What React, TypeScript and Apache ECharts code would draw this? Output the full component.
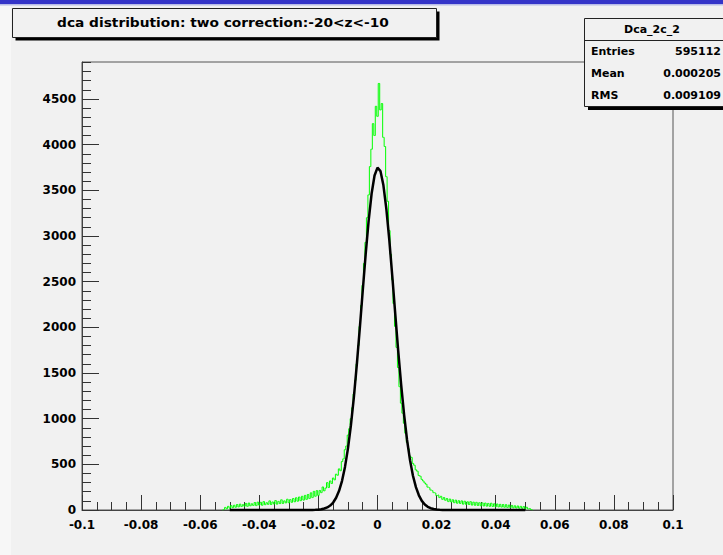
import React, { useEffect, useRef } from "react";
import * as echarts from "echarts";

const TITLE = "dca distribution: two correction:-20<z<-10";
const STATS_NAME = "Dca_2c_2";
const STATS_LABELS = ["Entries", "Mean", "RMS"];
const STATS_VALUES = ["595112", "0.000205", "0.009109"];

const X_MIN = -0.1;
const X_MAX = 0.1;
const X_INTERVAL = 0.02;
const Y_MIN = 0;
const Y_MAX = 4905;
const Y_MAJOR_TICKS = [0, 500, 1000, 1500, 2000, 2500, 3000, 3500, 4000, 4500];
const Y_MINOR_TICKS = [
  100, 200, 300, 400, 600, 700, 800, 900, 1100, 1200, 1300, 1400, 1600, 1700, 1800, 1900,
  2100, 2200, 2300, 2400, 2600, 2700, 2800, 2900, 3100, 3200, 3300, 3400, 3600, 3700, 3800, 3900,
  4100, 4200, 4300, 4400, 4600, 4700, 4800, 4900,
];

// histogram: bin centres start at -0.052, bin width 0.0005
const HIST_FIRST_CENTER = -0.052;
const HIST_BIN_WIDTH = 0.0005;
const HIST_COUNTS = [
  // -0.052 .. -0.040
  6, 28, 14, 40, 20, 48, 26, 52, 30, 60, 34, 64, 38, 58, 42, 72, 40, 76, 46, 68, 50, 82, 48, 86, 54,
  // -0.0395 .. -0.030
  84, 52, 92, 58, 80, 62, 100, 60, 88, 66, 104, 64, 94, 70, 112, 72, 100, 78, 118, 80,
  // -0.0295 .. -0.020
  114, 84, 126, 90, 134, 96, 142, 102, 150, 108, 160, 116, 170, 126, 188, 136, 204, 150, 212, 160,
  // -0.0195 .. -0.010
  214, 190, 252, 210, 240, 300, 246, 318, 290, 350, 330, 392, 380, 450, 430, 530, 560, 660, 700, 820,
  // -0.0095 .. -0.0035
  890, 1000, 1120, 1270, 1420, 1600, 1800, 2010, 2240, 2460, 2700, 2930, 3200,
  // -0.003 .. 0.003
  3450, 3760, 3950, 4230, 4100, 4420, 4310, 4670, 4380, 4450, 4080, 3980, 3650,
  // 0.0035 .. 0.010
  3380, 3060, 2800, 2520, 2260, 2010, 1780, 1560, 1350, 1170, 1060, 950, 840, 740,
  // 0.0105 .. 0.052
  670, 590, 575, 510, 490, 440, 425, 378, 370, 335,
  318, 296, 282, 250, 244, 218, 212, 190, 186, 158,
  164, 136, 150, 116, 136, 106, 126, 92, 120, 88,
  112, 80, 108, 74, 102, 72, 100, 64, 96, 62,
  90, 60, 92, 54, 86, 52, 84, 50, 80, 46,
  78, 44, 76, 42, 72, 40, 74, 38, 68, 36,
  66, 34, 62, 32, 60, 30, 58, 28, 54, 26,
  50, 24, 46, 22, 44, 20, 40, 18, 38, 14,
  30, 12, 16, 4,
];

// Gaussian fit curve as drawn (polyline, 0.001 steps)
const FIT_X = [
  -0.05, -0.023, -0.022, -0.021, -0.02, -0.019, -0.018, -0.017, -0.016, -0.015, -0.014, -0.013,
  -0.012, -0.011, -0.01, -0.009, -0.008, -0.007, -0.006, -0.005, -0.004, -0.003, -0.002, -0.001,
  0, 0.001, 0.002, 0.003, 0.004, 0.005, 0.006, 0.007, 0.008, 0.009, 0.01, 0.011, 0.012, 0.013,
  0.014, 0.015, 0.016, 0.017, 0.018, 0.019, 0.02, 0.021, 0.022, 0.023, 0.05,
];
const FIT_Y = [
  0, 0, 1, 2, 4, 8, 16, 28, 49, 82, 134, 210,
  320, 472, 672, 926, 1234, 1592, 1986, 2398, 2802, 3166, 3462, 3662,
  3748, 3711, 3555, 3294, 2954, 2562, 2151, 1746, 1372, 1043, 767, 546, 375, 250,
  161, 100, 61, 35, 20, 11, 6, 3, 1, 0, 0,
];

const FONT = "DejaVu Sans";

export default function App() {
  const ref = useRef<HTMLDivElement>(null);

  useEffect(() => {
    if (!ref.current) return;
    const chart = echarts.init(ref.current, null, { renderer: "svg" });

    const histData: number[][] = [[HIST_FIRST_CENTER - HIST_BIN_WIDTH, 0]];
    HIST_COUNTS.forEach((c, i) => histData.push([HIST_FIRST_CENTER + i * HIST_BIN_WIDTH, c]));
    histData.push([HIST_FIRST_CENTER + HIST_COUNTS.length * HIST_BIN_WIDTH, 0]);
    const fitData = FIT_X.map((x, i) => [x, FIT_Y[i]]);

    const tickColor = "#333";
    const labelStyle = { color: "#000", fontFamily: FONT, fontWeight: "bold" as const, fontSize: 12 };

    const statsRows: any[] = [];
    STATS_LABELS.forEach((lab, i) => {
      const y = 51 + i * 22;
      statsRows.push({
        type: "text", x: 591, y, z: 102,
        style: { text: lab, font: `bold 11px "${FONT}"`, fill: "#000", align: "left", verticalAlign: "middle" },
      });
      statsRows.push({
        type: "text", x: 721, y, z: 102,
        style: { text: STATS_VALUES[i], font: `bold 11px "${FONT}"`, fill: "#000", align: "right", verticalAlign: "middle" },
      });
    });

    chart.setOption({
      animation: false,
      backgroundColor: "#f1f1f1",
      grid: {
        left: 82, top: 62, width: 591, height: 448,
        show: true, borderColor: "#555", borderWidth: 1, backgroundColor: "transparent",
        containLabel: false, outerBoundsMode: "none",
      },
      xAxis: {
        type: "value", min: X_MIN, max: X_MAX, interval: X_INTERVAL,
        axisLine: { show: true, onZero: false, lineStyle: { color: "#444", width: 1 } },
        axisTick: { show: true, inside: true, length: 15, lineStyle: { color: tickColor, width: 1 } },
        minorTick: { show: true, splitNumber: 4, length: 8, lineStyle: { color: tickColor, width: 1 } },
        axisLabel: { ...labelStyle, margin: 9, hideOverlap: false },
        splitLine: { show: false },
        minorSplitLine: { show: false },
      },
      yAxis: [
        {
          type: "value", min: Y_MIN, max: Y_MAX,
          axisLine: { show: true, onZero: false, lineStyle: { color: "#444", width: 1 } },
          axisTick: { show: true, inside: true, length: 17, customValues: Y_MAJOR_TICKS, lineStyle: { color: tickColor, width: 1 } },
          axisLabel: {
            ...labelStyle, margin: 6, customValues: Y_MAJOR_TICKS, hideOverlap: false,
            formatter: (v: number) => String(v),
          },
          splitLine: { show: false },
        },
        {
          type: "value", min: Y_MIN, max: Y_MAX, position: "left",
          axisLine: { show: false, onZero: false },
          axisTick: { show: true, inside: true, length: 9, customValues: Y_MINOR_TICKS, lineStyle: { color: tickColor, width: 1 } },
          axisLabel: { show: false },
          splitLine: { show: false },
        },
      ],
      series: [
        {
          type: "line", data: histData, step: "middle", symbol: "none", showSymbol: false,
          lineStyle: { color: "#00ff00", width: 1 }, z: 2, silent: true,
        },
        {
          type: "line", data: fitData, symbol: "none", showSymbol: false, clip: false,
          lineStyle: { color: "#000", width: 2.5 }, z: 3, silent: true,
        },
      ],
      graphic: [
        { type: "rect", shape: { x: 0, y: 0, width: 723, height: 4 }, style: { fill: "#3434c8" }, z: 100 },
        { type: "rect", shape: { x: 0, y: 4, width: 723, height: 1.5 }, style: { fill: "#b8bce8" }, z: 100 },
        { type: "rect", shape: { x: 0, y: 5.5, width: 11, height: 550 }, style: { fill: "#f7f7f7" }, z: 1 },
        // title box
        { type: "rect", shape: { x: 15.5, y: 11.5, width: 424, height: 29 }, style: { fill: "#000" }, z: 100 },
        { type: "rect", shape: { x: 12.5, y: 8.5, width: 424, height: 29 }, style: { fill: "#f1f1f1", stroke: "#222", lineWidth: 1 }, z: 101 },
        {
          type: "text", x: 223, y: 23, scaleX: 1.1, z: 102,
          style: { text: TITLE, font: `bold 12.5px "${FONT}"`, fill: "#000", align: "center", verticalAlign: "middle" },
        },
        // stats box
        { type: "rect", shape: { x: 588, y: 22, width: 145, height: 88 }, style: { fill: "#000" }, z: 100 },
        { type: "rect", shape: { x: 584.5, y: 18.5, width: 145, height: 88 }, style: { fill: "#f1f1f1", stroke: "#222", lineWidth: 1 }, z: 101 },
        { type: "line", shape: { x1: 584.5, y1: 40.5, x2: 723, y2: 40.5 }, style: { stroke: "#222", lineWidth: 1 }, z: 102 },
        {
          type: "text", x: 652, y: 29, z: 102,
          style: { text: STATS_NAME, font: `bold 11px "${FONT}"`, fill: "#000", align: "center", verticalAlign: "middle" },
        },
        ...statsRows,
      ],
    });

    return () => chart.dispose();
  }, []);

  return <div ref={ref} style={{ position: "absolute", left: 0, top: 0, width: 723, height: 555 }} />;
}
